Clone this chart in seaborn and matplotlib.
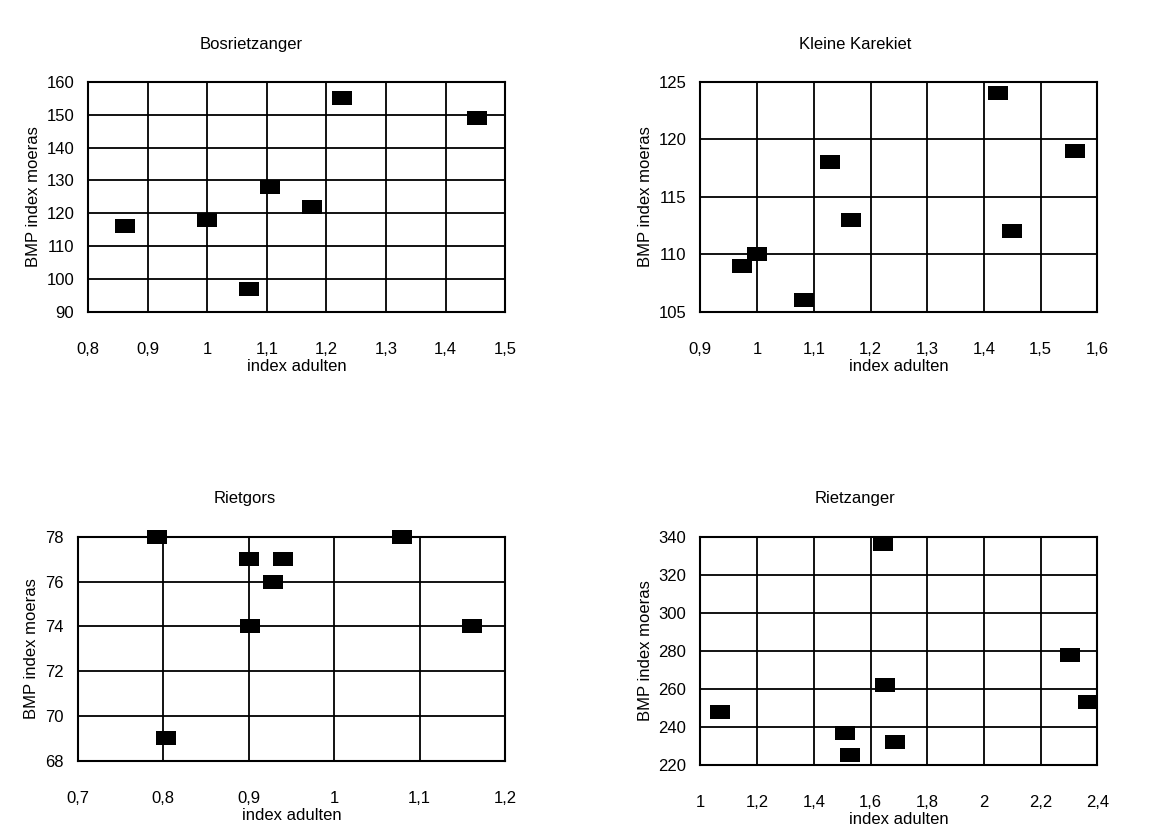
import numpy as np
import pandas as pd
import matplotlib
matplotlib.use("Agg")
import matplotlib.pyplot as plt
import seaborn as sns
from matplotlib.ticker import FuncFormatter, MultipleLocator

sns.set_theme(style="white")
plt.rcParams['font.family'] = ['Liberation Sans', 'DejaVu Sans']

# Bosrietzanger
bos_x = [0.862, 1.0, 1.07, 1.105, 1.175, 1.226, 1.452]
bos_y = [116, 118, 97, 128, 122, 155, 149]

# Kleine Karekiet
kk_x = [0.974, 1.0, 1.082, 1.129, 1.165, 1.424, 1.45, 1.561]
kk_y = [109, 110, 106, 118, 113, 124, 112, 119]

# Rietgors
rg_x = [0.793, 1.079, 0.9, 0.94, 0.928, 0.902, 1.161, 0.803]
rg_y = [78, 78, 77, 77, 76, 74, 74, 69]

# Rietzanger
rz_x = [1.07, 1.51, 1.526, 1.643, 1.651, 1.687, 2.303, 2.367]
rz_y = [248, 237, 225, 336, 262, 232, 278, 253]

panels = [
    ("Bosrietzanger", bos_x, bos_y, (0.8, 1.5), 0.1, (90, 160), 10),
    ("Kleine Karekiet", kk_x, kk_y, (0.9, 1.6), 0.1, (105, 125), 5),
    ("Rietgors", rg_x, rg_y, (0.7, 1.2), 0.1, (68, 78), 2),
    ("Rietzanger", rz_x, rz_y, (1.0, 2.4), 0.2, (220, 340), 20),
]

# axes rectangles in figure fractions
rects = [
    [0.075, 0.627, 0.355, 0.275],
    [0.596, 0.627, 0.338, 0.275],
    [0.066, 0.090, 0.364, 0.268],
    [0.596, 0.085, 0.338, 0.273],
]

comma = FuncFormatter(lambda v, p: f"{v:g}".replace('.', ','))

# flat rectangle marker, wider than tall
rect_marker = [(-1, -0.65), (1, -0.65), (1, 0.65), (-1, 0.65), (-1, -0.65)]

fig = plt.figure(figsize=(11.75, 8.36), dpi=100)

for (title, xs, ys, xlim, xstep, ylim, ystep), rect in zip(panels, rects):
    ax = fig.add_axes(rect)
    df = pd.DataFrame({'index adulten': xs, 'BMP index moeras': ys})
    sns.scatterplot(data=df, x='index adulten', y='BMP index moeras', ax=ax,
                    marker=rect_marker, s=210, color='black', linewidth=0,
                    clip_on=False, zorder=3)
    ax.set_xlim(*xlim)
    ax.set_ylim(*ylim)
    ax.xaxis.set_major_locator(MultipleLocator(xstep))
    ax.yaxis.set_major_locator(MultipleLocator(ystep))
    ax.xaxis.set_major_formatter(comma)
    ax.yaxis.set_major_formatter(comma)
    ax.grid(True, color='black', linewidth=1.3)
    for sp in ax.spines.values():
        sp.set_color('black')
        sp.set_linewidth(1.5)
    ax.tick_params(axis='x', length=0, pad=22, labelsize=12, colors='black')
    ax.tick_params(axis='y', length=0, pad=10, labelsize=12, colors='black')
    ax.set_xlabel('index adulten', fontsize=12, color='black', labelpad=1)
    ax.set_ylabel('BMP index moeras', fontsize=12, color='black', labelpad=4)
    ax.set_title(title, x=0.39, pad=24, fontsize=12, color='black')

fig.savefig('out.png', dpi=100, facecolor='white')
